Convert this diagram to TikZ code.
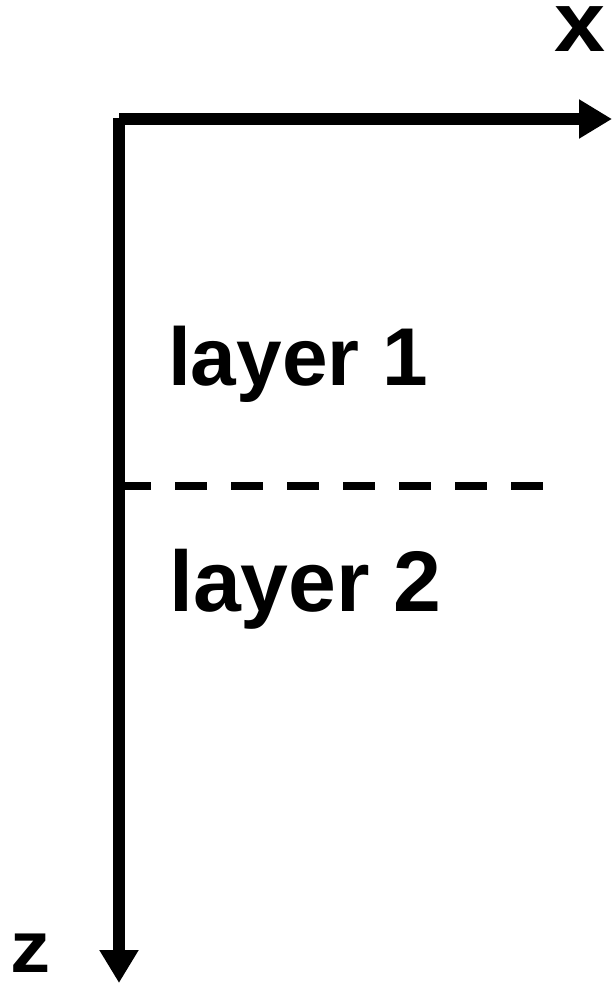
\documentclass[tikz,border=0pt]{standalone}
\usepackage{fontspec}
\setmainfont{Liberation Sans}
\usetikzlibrary{arrows.meta}
\begin{document}
\begin{tikzpicture}[x=1pt,y=-1pt,
  axis/.style={line width=12pt,-{Triangle[length=33pt,width=37pt]}},
  sep/.style={line width=8pt,dash pattern=on 32pt off 24pt},
  lbl/.style={font=\fontsize{80}{90}\selectfont\bfseries,inner sep=0pt,anchor=base west}]
\useasboundingbox (0,0) rectangle (612,984);
\coordinate (o) at (119,119);
\coordinate (ov) at (119,118);
\coordinate (xend) at (612,119);
\coordinate (zend) at (119,983);
\coordinate (ds) at (119,486);
\coordinate (de) at (543,486);
\draw[axis] (o) -- (xend);
\draw[axis] (ov) -- (zend);
\draw[sep] (ds) -- (de);
\node[lbl,font=\fontsize{82}{92}\selectfont\bfseries] (l1) at (168,385) {layer 1};
\node[lbl,font=\fontsize{86}{96}\selectfont\bfseries] (l2) at (169,611) {layer 2};
\node[lbl,anchor=base,font=\fontsize{85}{95}\selectfont\bfseries,xscale=1.08] (xl) at (580,52) {x};
\node[lbl,anchor=base,font=\fontsize{73}{83}\selectfont\bfseries,xscale=1.1] (zl) at (31,972) {z};
\end{tikzpicture}
\end{document}
